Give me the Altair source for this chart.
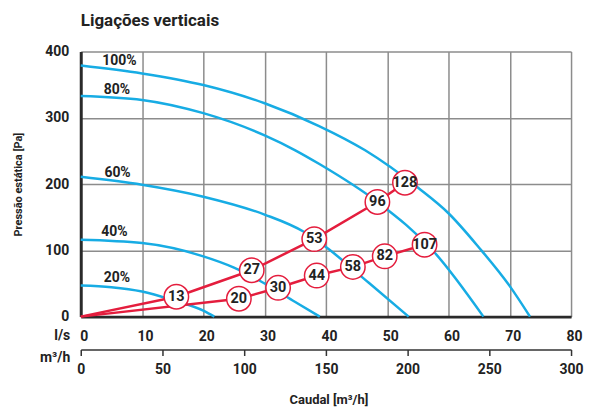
import altair as alt
import pandas as pd

# ---------------- data ----------------
fan_names = ["100%", "80%", "60%", "40%", "20%"]
fan_x = {
    "100%": [0, 10, 20, 30, 38.8, 46.4, 55.1, 60, 65, 70, 73.3],
    "80%": [0, 10, 20, 30, 35, 38.8, 48.4, 57.8, 65.7],
    "60%": [0, 10, 20, 30, 36.4, 40, 47, 53.5],
    "40%": [0, 10, 20, 25, 30, 35, 39],
    "20%": [0, 5, 10, 15, 20, 21.8],
}
fan_y = {
    "100%": [379, 367, 349.5, 322, 288, 251, 194, 156, 104, 46, 0],
    "80%": [333, 327, 307, 273.5, 251, 231, 173, 96, 0],
    "60%": [211, 199, 181, 154, 128, 105, 51, 0],
    "40%": [116, 111, 91, 74, 50, 22, 0],
    "20%": [47, 44.5, 38, 25, 9, 0],
}
fan_label_x = [6.3, 5.9, 6.0, 5.5, 5.9]
fan_label_y = [386, 342, 217, 127.5, 58.5]

sys_a_x = [0, 15.6, 27.9, 38.1, 48.4, 52.9]
sys_a_y = [0, 30, 70, 117, 173, 202]
sys_a_lab = ["", "13", "27", "53", "96", "128"]

sys_b_x = [0, 25.8, 32.2, 38.5, 44.4, 49.6, 56.1]
sys_b_y = [0, 27, 43.5, 62, 75, 91, 108.5]
sys_b_lab = ["", "20", "30", "44", "58", "82", "107"]

ls_ticks = [0, 10, 20, 30, 40, 50, 60, 70, 80]
mh_ticks = [0, 50, 100, 150, 200, 250, 300]
pa_ticks = [0, 100, 200, 300, 400]

# ---------------- tables ----------------
fan_rows = []
for n in fan_names:
    for i, (xv, yv) in enumerate(zip(fan_x[n], fan_y[n])):
        fan_rows.append({"curve": n, "ls": xv, "pa": yv, "i": i})
fan_df = pd.DataFrame(fan_rows)
fan_lab_df = pd.DataFrame({"t": fan_names, "ls": fan_label_x, "pa": fan_label_y})

sys_rows = []
for i, (xv, yv, lb) in enumerate(zip(sys_a_x, sys_a_y, sys_a_lab)):
    sys_rows.append({"s": "a", "ls": xv, "pa": yv, "lab": lb, "i": i})
for i, (xv, yv, lb) in enumerate(zip(sys_b_x, sys_b_y, sys_b_lab)):
    sys_rows.append({"s": "b", "ls": xv, "pa": yv, "lab": lb, "i": i})
sys_df = pd.DataFrame(sys_rows)
pts_df = sys_df[sys_df["lab"] != ""]

BLUE = "#17ace4"
RED = "#e41d3d"
DARK = "#222222"
GRID = "#8c8c8c"
FONT = "Roboto"

xs = alt.Scale(domain=[0, 80], nice=False, zero=False)
ys = alt.Scale(domain=[0, 400], nice=False)

x_ls_axis = alt.Axis(
    values=ls_ticks, grid=True, gridColor=GRID, gridWidth=1.5,
    ticks=False, domainColor="#2a2a2a", domainWidth=3,
    labelFont=FONT, labelFontWeight="bold", labelFontSize=14, labelColor=DARK,
    labelPadding=13, labelOffset=3, labelFlush=False,
    title="l/s", titleFont=FONT, titleFontWeight="bold", titleFontSize=14,
    titleColor=DARK, titleX=-11, titleY=19, titleAlign="right",
    titleBaseline="middle", orient="bottom",
)
y_axis = alt.Axis(
    values=pa_ticks, grid=True, gridColor=GRID, gridWidth=1.5,
    ticks=False, domainColor="#2a2a2a", domainWidth=3,
    labelFont=FONT, labelFontWeight="bold", labelFontSize=14, labelColor=DARK,
    labelPadding=12,
    title="Pressão estática [Pa]", titleFont=FONT, titleFontWeight="bold",
    titleFontSize=11, titleColor=DARK, titleX=-62.5, titleY=133,
    titleAngle=270, titleAlign="center", titleBaseline="middle",
)


def X():
    return alt.X("ls:Q", scale=xs, axis=x_ls_axis)


def Y():
    return alt.Y("pa:Q", scale=ys, axis=y_axis)


fan_lines = alt.Chart(fan_df).mark_line(
    color=BLUE, strokeWidth=2.5, interpolate="monotone"
).encode(x=X(), y=Y(), detail="curve:N", order="i:Q")

fan_labels = alt.Chart(fan_lab_df).mark_text(
    font=FONT, fontWeight="bold", fontSize=14, color=DARK
).encode(x=X(), y=Y(), text="t:N")

sys_lines = alt.Chart(sys_df).mark_line(color=RED, strokeWidth=2.5).encode(
    x=X(), y=Y(), detail="s:N", order="i:Q"
)

circles = alt.Chart(pts_df).mark_point(
    shape="circle", filled=True, fill="white", stroke=RED, strokeWidth=1.5,
    size=600, opacity=1, fillOpacity=1, strokeOpacity=1,
).encode(x=X(), y=Y())

circle_text = alt.Chart(pts_df).mark_text(
    font=FONT, fontWeight="bold", fontSize=14.5, color=DARK, baseline="middle"
).encode(x=X(), y=Y(), text="lab:N")

caudal = alt.Chart(pd.DataFrame({"t": ["Caudal [m³/h]"]})).mark_text(
    font=FONT, fontWeight="bold", fontSize=13, color=DARK, baseline="middle"
).encode(x=alt.value(249), y=alt.value(350), text="t:N")

main = alt.layer(fan_lines, fan_labels, sys_lines, circles, circle_text, caudal)

mh_df = pd.DataFrame({"mh": [mh_ticks[0], mh_ticks[-1]], "pa": [0, 0]})
mh_axis = alt.Axis(
    values=mh_ticks, grid=False, orient="bottom", offset=33,
    domain=True, domainColor="#333333", domainWidth=1.5,
    ticks=True, tickSize=6, tickColor="#333333", tickWidth=1.5,
    labelFont=FONT, labelFontWeight="bold", labelFontSize=14, labelColor=DARK,
    labelPadding=7, labelFlush=False,
    title="m³/h", titleFont=FONT, titleFontWeight="bold", titleFontSize=14,
    titleColor=DARK, titleX=-11, titleY=8, titleAlign="right",
    titleBaseline="middle",
)
mh_layer = alt.Chart(mh_df).mark_point(opacity=0).encode(
    x=alt.X("mh:Q", scale=alt.Scale(domain=[0, 300], nice=False), axis=mh_axis),
    y=Y(),
)

chart = alt.layer(main, mh_layer).resolve_scale(x="independent").properties(
    width=492,
    height=266,
    autosize=alt.AutoSizeParams(type="none"),
    padding={"left": 73, "top": 43, "right": 15, "bottom": 92},
    title=alt.TitleParams(
        "Ligações verticais", anchor="start", frame="group", font=FONT,
        fontSize=17, fontWeight="bold", color=DARK, offset=15,
    ),
).configure_view(stroke=None)

chart.save("out.html", embed_options={"renderer": "svg", "actions": False})
